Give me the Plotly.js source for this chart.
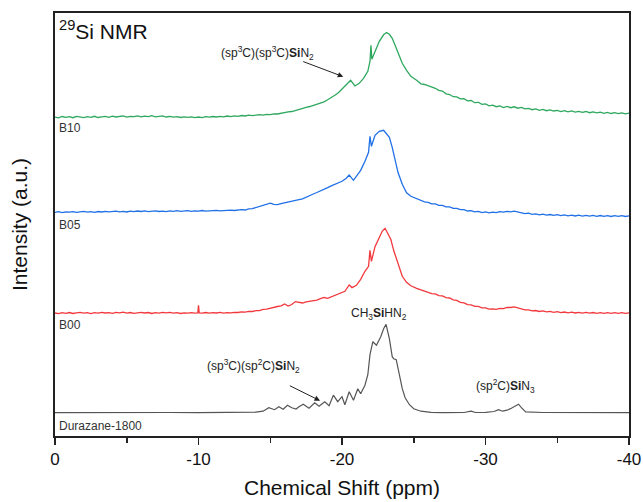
<!DOCTYPE html>
<html>
<head>
<meta charset="utf-8">
<script src="https://cdn.plot.ly/plotly-3.0.1.min.js"></script>
<style>html,body{margin:0;padding:0;background:#fff;}#chart{width:643px;height:502px;}</style>
</head>
<body>
<div id="chart"></div>
<script>
// ---- data: chemical shift (ppm) and intensity (a.u., above each trace's own baseline) ----
const seriesNames = ["Durazane-1800", "B00", "B05", "B10"];
const offsets = [23.3, 122.7, 223.7, 318.7];

// shared ppm grids read at 0.25 ppm
const gridLow = [0,-0.25,-0.5,-0.75,-1,-1.25,-1.5,-1.75,-2,-2.25,-2.5,-2.75,-3,-3.25,-3.5,-3.75,-4,-4.25,-4.5,-4.75,-5,-5.25,-5.5,-5.75,-6,-6.25,-6.5,-6.75,-7,-7.25,-7.5,-7.75,-8,-8.25,-8.5,-8.75,-9,-9.25,-9.5,-9.75,-10,-10.25,-10.5,-10.75,-11,-11.25,-11.5,-11.75,-12,-12.25,-12.5,-12.75];
const gridMid = [-13,-13.25,-13.5,-13.75,-14,-14.25,-14.5,-14.75,-15,-15.25,-15.5,-15.75,-16,-16.25,-16.5,-16.75,-17,-17.25,-17.5,-17.75,-18,-18.25,-18.5,-18.75,-19,-19.25,-19.5,-19.75];
const gridTail = [-25.5,-25.75,-26,-26.25,-26.5,-26.75,-27,-27.25,-27.5,-27.75,-28,-28.25,-28.5,-28.75,-29,-29.25,-29.5,-29.75,-30,-30.25,-30.5,-30.75,-31,-31.25,-31.5,-31.75,-32,-32.25,-32.5,-32.75,-33,-33.25,-33.5,-33.75,-34,-34.25,-34.5,-34.75,-35,-35.25,-35.5,-35.75,-36,-36.25,-36.5,-36.75,-37,-37.25,-37.5,-37.75,-38,-38.25,-38.5,-38.75,-39,-39.25,-39.5,-39.75,-40];

// Durazane-1800 (gray)
const durazanePpm = [0,-2,-4,-6,-8,-10,-12,-13,-14,-14.5,-14.9,-15.3,-15.6,-15.9,-16.2,-16.5,-16.8,-17.0,-17.3,-17.7,-18.1,-18.4,-18.8,-19.1,-19.4,-19.7,-20.0,-20.2,-20.5,-20.8,-21.1,-21.3,-21.6,-21.8,-21.95,-22.15,-22.4,-22.7,-22.9,-23.07,-23.3,-23.5,-23.6,-23.78,-24.0,-24.2,-24.4,-24.7,-25.0,-25.5,-26.2,-27,-28.5,-29.0,-29.3,-30,-30.6,-30.9,-31.2,-31.5,-31.8,-32.1,-32.3,-32.5,-32.8,-34,-36,-38,-40];
const durazaneVal = [0,0.2,0,0.3,0.2,0,0.3,0.2,0.5,1.5,5,3,6,3.5,7.5,5,3.7,6,8.5,4.5,10,6.5,11,7,17.5,11,16,8,21,12.5,24,19,27.5,38,58,71,67.5,76,84,88.3,74,56,54,53,38,24,15,8,4,1.5,0.4,0,0.2,1.5,0.2,0.3,1.2,3,1.5,2.5,4.5,7,8.5,5,0.8,0.2,0,0.2,0];

// B00 (red)
const b00LowPpm = [0,-0.25,-0.5,-0.75,-1,-1.25,-1.5,-1.75,-2,-2.25,-2.5,-2.75,-3,-3.25,-3.5,-3.75,-4,-4.25,-4.5,-4.75,-5,-5.25,-5.5,-5.75,-6,-6.25,-6.5,-6.75,-7,-7.25,-7.5,-7.75,-8,-8.25,-8.5,-8.75,-9,-9.25,-9.5,-9.75,-9.95,-10,-10.05,-10.25,-10.5,-10.75,-11,-11.25,-11.5,-11.75,-12,-12.25,-12.5,-12.75];
const b00LowVal = [0.3,-0.4,0.6,0.0,0.8,-0.2,0.5,0.9,0.1,0.6,-0.3,0.7,0.2,1.0,0.3,0.7,-0.1,0.9,0.4,1.1,0.2,0.8,0.0,0.6,1.0,0.3,0.8,-0.2,0.7,0.2,1.0,0.4,0.9,0.1,0.6,-0.2,0.5,0.1,0.7,0.2,0.4,8,0.5,0.2,0.8,0.1,0.6,0.3,0.9,0.2,0.7,0.4,1.0,0.8];
const b00MidVal = [1.4,1.1,2.0,1.8,2.7,2.6,3.9,4.1,5.2,5.6,6.8,7.5,9.3,7.2,8.8,11.7,10.9,10.3,11.4,12.0,13.0,13.2,14.6,15.8,15.0,16.5,18.3,19.6];
const b00PeakPpm = [-20.0,-20.2,-20.5,-20.7,-21.0,-21.3,-21.6,-21.85,-21.95,-22.05,-22.3,-22.6,-22.8,-23.0,-23.2,-23.4,-23.6,-23.9,-24.2,-24.5,-24.8,-25.2];
const b00PeakVal = [20.8,22,28.3,25.7,28,34,42,47,63,52,66.7,76.7,82,85,80,74,63,50,37,31,27.5,25];
const b00TailVal = [23.4,21.8,21.0,19.6,19.4,17.6,17.4,15.6,15.3,13.4,12.9,10.9,10.4,8.6,8.4,6.9,6.9,5.4,5.4,4.1,4.5,3.9,4.9,4.6,5.9,5.8,6.5,5.2,4.6,3.4,3.4,2.4,2.8,1.8,2.4,1.4,1.9,1.0,1.6,0.7,1.3,0.5,1.2,0.3,1.0,0.2,0.9,0.1,0.8,0.0,0.7,-0.1,0.6,0.0,0.7,-0.1,0.6,0.0,0.4];

// B05 (blue)
const b05LowVal = [0.0,0.6,-0.3,0.4,0.1,0.7,-0.1,0.5,0.9,0.2,0.6,0.0,0.8,0.3,1.0,0.4,0.7,1.2,0.5,0.9,0.3,1.1,0.6,1.3,0.8,1.4,0.7,1.1,1.5,0.8,1.2,0.6,1.4,1.0,1.6,0.9,1.3,1.7,1.0,1.5,1.2,1.8,1.1,1.6,1.4,2.0,1.5,1.9,1.6,2.2,1.8,2.4];
const b05MidVal = [2.6,2.3,3.4,3.6,4.8,5.3,6.9,8.0,9.2,8.0,7.6,8.7,9.4,9.9,10.8,11.2,12.6,13.4,15.3,16.6,18.3,19.8,21.2,23.2,24.6,26.4,27.9,29.6];
const b05PeakPpm = [-20.0,-20.3,-20.5,-20.8,-21.0,-21.3,-21.6,-21.85,-21.95,-22.05,-22.3,-22.6,-22.9,-23.1,-23.3,-23.5,-23.7,-23.9,-24.2,-24.5,-24.8,-25.2];
const b05PeakVal = [31,34,37.3,32,36,42,51,60,76,66,77,81,82,79,75,65,52,40,28,19.5,16,13.5];
const b05TailVal = [12.0,10.4,10.0,8.5,8.4,6.9,7.0,5.4,5.5,3.9,4.0,2.6,2.7,1.3,1.7,0.4,1.0,-0.3,0.4,-0.5,0.2,-0.4,0.6,0.1,1.0,0.5,1.1,0.1,-0.2,-1.3,-0.9,-2.0,-1.5,-2.6,-1.9,-2.9,-2.2,-3.1,-2.4,-3.3,-2.6,-3.6,-2.8,-3.7,-2.9,-3.8,-3.0,-3.9,-3.1,-4.0,-3.2,-4.1,-3.3,-4.2,-3.4,-4.1,-3.3,-4.2,-3.6];

// B10 (green)
const b10LowVal = [0.2,-0.5,0.8,-0.1,0.6,-0.4,0.9,0.1,-0.3,0.7,0.0,1.0,-0.2,0.5,0.9,0.0,1.1,0.3,0.8,1.4,0.2,1.0,0.6,1.5,0.4,1.2,0.7,1.6,0.5,1.1,1.4,0.3,0.9,0.2,0.7,-0.2,0.5,0.0,0.4,-0.4,0.3,-0.3,0.6,0.1,0.8,0.3,1.0,0.5,1.3,0.7,1.5,1.0];
const b10MidVal = [1.8,1.3,2.2,1.7,2.0,2.6,2.1,3.0,2.7,3.5,3.3,4.2,4.5,5.4,5.8,7.0,7.5,8.9,10,10.8,12,12.6,14,15.5,17.5,19.5,22,24.5];
const b10PeakPpm = [-20.0,-20.3,-20.6,-20.9,-21.2,-21.5,-21.8,-21.95,-22.02,-22.08,-22.3,-22.6,-22.9,-23.1,-23.3,-23.5,-23.7,-23.9,-24.2,-24.5,-24.8,-25.2];
const b10PeakVal = [28,32,37,31.3,34,39,46,56,72,58,65,76,82.5,84.7,83,79,72,64,54,47,41,37];
const b10TailVal = [33.5,32.8,31.5,29.6,29.0,26.9,26.2,23.5,22.8,20.6,20.4,18.4,18.6,16.5,16.8,14.6,15.0,12.9,13.4,11.5,12.2,10.6,11.4,9.8,10.9,9.6,10.5,9.1,9.9,8.4,9.0,7.6,8.4,7.0,7.9,6.6,7.4,6.3,7.0,5.7,6.6,5.5,6.4,5.2,6.0,4.9,5.8,4.6,5.5,4.5,5.2,4.0,4.9,3.8,4.7,3.6,4.4,3.5,4.1];

const xTickVals = [0, -10, -20, -30, -40];
const xTickText = ["0", "-10", "-20", "-30", "-40"];
const colors = ["#555555", "#f2383d", "#2070e6", "#2ea85e"];

// ---- assemble traces ----
const ppmSets = [
  durazanePpm,
  b00LowPpm.concat(gridMid, b00PeakPpm, gridTail),
  gridLow.concat(gridMid, b05PeakPpm, gridTail),
  gridLow.concat(gridMid, b10PeakPpm, gridTail)
];
const valSets = [
  durazaneVal,
  b00LowVal.concat(b00MidVal, b00PeakVal, b00TailVal),
  b05LowVal.concat(b05MidVal, b05PeakVal, b05TailVal),
  b10LowVal.concat(b10MidVal, b10PeakVal, b10TailVal)
];
const traces = ppmSets.map((px, i) => ({
  type: "scatter", mode: "lines", name: seriesNames[i],
  x: px, y: valSets[i].map(v => v + offsets[i]),
  line: {color: colors[i], width: i === 0 ? 1.2 : 1.3},
  hoverinfo: "skip"
}));

const fam = "Arial, Liberation Sans, sans-serif";
const txtFont = {family: fam, size: 12, color: "#222"};
const lblFont = {family: fam, size: 12, color: "#333"};

const annotations = [
  {xref: "paper", yref: "paper", x: 0.0035, y: 0.96, xanchor: "left", yanchor: "middle", showarrow: false,
   text: "<sup>29</sup>Si NMR", font: {family: fam, size: 21, color: "#111"}},
  {xref: "paper", yref: "paper", x: 0.371, y: 0.906, xanchor: "center", yanchor: "middle", showarrow: false,
   text: "(sp<sup>3</sup>C)(sp<sup>3</sup>C)<b>Si</b>N<sub>2</sub>", font: txtFont},
  {xref: "paper", yref: "paper", x: 0.564, y: 0.288, xanchor: "center", yanchor: "middle", showarrow: false,
   text: "CH<sub>3</sub><b>Si</b>HN<sub>2</sub>", font: txtFont},
  {xref: "paper", yref: "paper", x: 0.3455, y: 0.166, xanchor: "center", yanchor: "middle", showarrow: false,
   text: "(sp<sup>3</sup>C)(sp<sup>2</sup>C)<b>Si</b>N<sub>2</sub>", font: txtFont},
  {xref: "paper", yref: "paper", x: 0.785, y: 0.119, xanchor: "center", yanchor: "middle", showarrow: false,
   text: "(sp<sup>2</sup>C)<b>Si</b>N<sub>3</sub>", font: txtFont},
  {xref: "x", yref: "y", x: -20.09, y: 359.3, ax: -41.6, ay: -15.7, text: "", showarrow: true,
   arrowhead: 2, arrowsize: 1.1, arrowwidth: 1, arrowcolor: "#222"},
  {xref: "x", yref: "y", x: -18.47, y: 35.3, ax: -31.7, ay: -15.7, text: "", showarrow: true,
   arrowhead: 2, arrowsize: 1.1, arrowwidth: 1, arrowcolor: "#222"}
];
const labelY = [0.0236, 0.2624, 0.4988, 0.7274];
seriesNames.forEach((n, i) => annotations.push({
  xref: "paper", yref: "paper", x: 0.003, y: labelY[i], xanchor: "left", yanchor: "middle",
  showarrow: false, text: n, font: lblFont
}));

const layout = {
  width: 643, height: 502,
  margin: {l: 55, r: 14, t: 13, b: 66},
  paper_bgcolor: "#fff", plot_bgcolor: "#fff",
  showlegend: false,
  font: {family: fam, color: "#111"},
  xaxis: {
    range: [0, -40], tickvals: xTickVals, ticktext: xTickText,
    ticks: "outside", ticklen: 7, tickwidth: 1.5, tickcolor: "#222",
    minor: {dtick: 5, tick0: 0, ticks: "outside", ticklen: 5, tickwidth: 1.5, tickcolor: "#222"},
    showline: true, linecolor: "#222", linewidth: 2, mirror: true,
    showgrid: false, zeroline: false,
    tickfont: {size: 17, color: "#111"},
    title: {text: "Chemical Shift (ppm)", font: {size: 21, color: "#111"}, standoff: 12}
  },
  yaxis: {
    range: [0, 423], showticklabels: false, ticks: "",
    showline: true, linecolor: "#222", linewidth: 2, mirror: true,
    showgrid: false, zeroline: false,
    title: {text: "Intensity (a.u.)", font: {size: 21, color: "#111"}, standoff: 20}
  },
  annotations: annotations
};

Plotly.newPlot("chart", traces, layout, {displayModeBar: false, staticPlot: true});
</script>
</body>
</html>
